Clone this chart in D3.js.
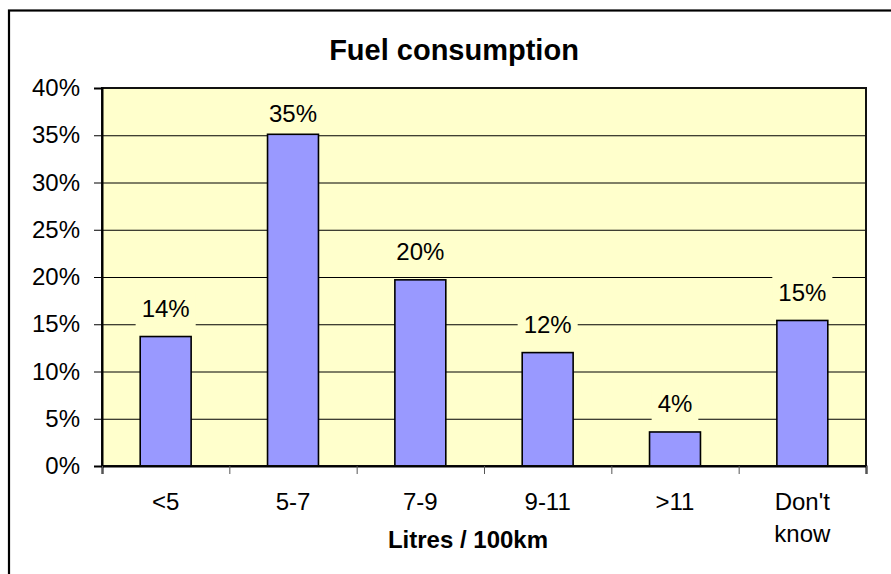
<!DOCTYPE html>
<html lang="en">
  <head>
    <meta charset="UTF-8" />
    <script src="https://cdn.jsdelivr.net/npm/d3@7/dist/d3.min.js"></script>
    <title>Fuel consumption</title>
    <style>
      body { margin: 0; background: #fff; }
      svg { display: block; font-family: "Liberation Sans", Arial, sans-serif; }
    </style>
  </head>
  <body>
    <svg class="svg" width="891" height="574"></svg>
    <script>
      // data
      const categories = ['<5', '5-7', '7-9', '9-11', '>11', "Don't know"];
      const values = [0.137, 0.351, 0.197, 0.120, 0.036, 0.154];
      const labels = ['14%', '35%', '20%', '12%', '4%', '15%'];
      const yTicks = [0, 0.05, 0.1, 0.15, 0.2, 0.25, 0.3, 0.35, 0.4];

      const svg = d3.select('.svg');
      const plot = { left: 102, right: 866, top: 88, bottom: 466 };

      // outer chart border (runs off the right and bottom edge)
      svg.append('rect')
        .attr('x', 9).attr('y', 10.5)
        .attr('width', 900).attr('height', 600)
        .attr('fill', '#fff').attr('stroke', '#000').attr('stroke-width', 2.2);

      const x = d3.scaleBand()
        .domain(categories)
        .range([plot.left, plot.right])
        .paddingInner(0.6)
        .paddingOuter(0.3);
      const xEdge = d3.scaleLinear().domain([0, categories.length]).range([plot.left, plot.right]);
      const y = d3.scaleLinear().domain([0, 0.4]).range([plot.bottom, plot.top]);

      // plot background
      svg.append('rect')
        .attr('x', plot.left).attr('y', plot.top)
        .attr('width', plot.right - plot.left).attr('height', plot.bottom - plot.top)
        .attr('fill', '#ffffcc');

      // gridlines
      const grid = svg.append('g')
        .attr('transform', `translate(${plot.left},0)`)
        .call(d3.axisLeft(y).tickValues(yTicks.slice(1, -1)).tickSize(-(plot.right - plot.left)).tickFormat(''));
      grid.select('.domain').remove();
      grid.selectAll('line').attr('stroke', '#000').attr('stroke-width', 1);

      // bars
      svg.append('g')
        .selectAll('rect')
        .data(values)
        .join('rect')
        .attr('x', (d, i) => x(categories[i]))
        .attr('y', d => y(d))
        .attr('width', x.bandwidth())
        .attr('height', d => y(0) - y(d))
        .attr('fill', '#9999ff')
        .attr('stroke', '#000')
        .attr('stroke-width', 1.6);

      // plot border
      svg.append('rect')
        .attr('x', plot.left).attr('y', plot.top)
        .attr('width', plot.right - plot.left).attr('height', plot.bottom - plot.top)
        .attr('fill', 'none').attr('stroke', '#111').attr('stroke-width', 2);

      // y axis
      const yAxis = svg.append('g')
        .attr('transform', `translate(${plot.left},0)`)
        .call(d3.axisLeft(y).tickValues(yTicks).tickFormat(d3.format('.0%')).tickSize(8).tickPadding(14));
      yAxis.select('.domain').attr('stroke', '#000').attr('stroke-width', 2);
      yAxis.selectAll('line').attr('stroke', '#000');
      yAxis.selectAll('text').attr('font-size', 24).attr('font-family', '"Liberation Sans", Arial, sans-serif').attr('fill', '#000');

      // x axis ticks between categories
      const xAxis = svg.append('g')
        .attr('transform', `translate(0,${plot.bottom})`)
        .call(d3.axisBottom(xEdge).tickValues(d3.range(categories.length + 1)).tickSize(8).tickFormat(''));
      xAxis.select('.domain').attr('stroke', '#000').attr('stroke-width', 2);
      xAxis.selectAll('line').attr('stroke', '#555');

      // category labels
      svg.append('g')
        .selectAll('text')
        .data(categories)
        .join('text')
        .attr('x', d => x(d) + x.bandwidth() / 2)
        .attr('y', 510)
        .attr('text-anchor', 'middle')
        .attr('font-size', 24)
        .attr('fill', '#000')
        .each(function (d) {
          const words = d === "Don't know" ? ["Don't", 'know'] : [d];
          const t = d3.select(this);
          words.forEach((w, k) => {
            t.append('tspan')
              .attr('x', x(d) + x.bandwidth() / 2)
              .attr('dy', k === 0 ? 0 : 31.5)
              .text(w);
          });
        });

      // data labels with background boxes that cover the gridlines
      const labelBase = values.map(v => Math.max(y(v) - 19.5, plot.top + 33.7));
      const lab = svg.append('g')
        .selectAll('g')
        .data(labels)
        .join('g')
        .attr('transform', (d, i) => `translate(${x(categories[i]) + x.bandwidth() / 2},${labelBase[i]})`);
      lab.append('text')
        .attr('text-anchor', 'middle')
        .attr('font-size', 24)
        .attr('fill', '#000')
        .text(d => d)
        .each(function () {
          const w = this.getComputedTextLength();
          d3.select(this.parentNode).insert('rect', 'text')
            .attr('x', -w / 2 - 6).attr('y', -25)
            .attr('width', w + 12).attr('height', 35)
            .attr('fill', '#ffffcc');
        });

      // titles
      svg.append('text')
        .attr('x', 454).attr('y', 60)
        .attr('text-anchor', 'middle')
        .attr('font-size', 29).attr('font-weight', 'bold')
        .text('Fuel consumption');
      svg.append('text')
        .attr('x', 468).attr('y', 548)
        .attr('text-anchor', 'middle')
        .attr('font-size', 24).attr('font-weight', 'bold')
        .text('Litres / 100km');
    </script>
  </body>
</html>
